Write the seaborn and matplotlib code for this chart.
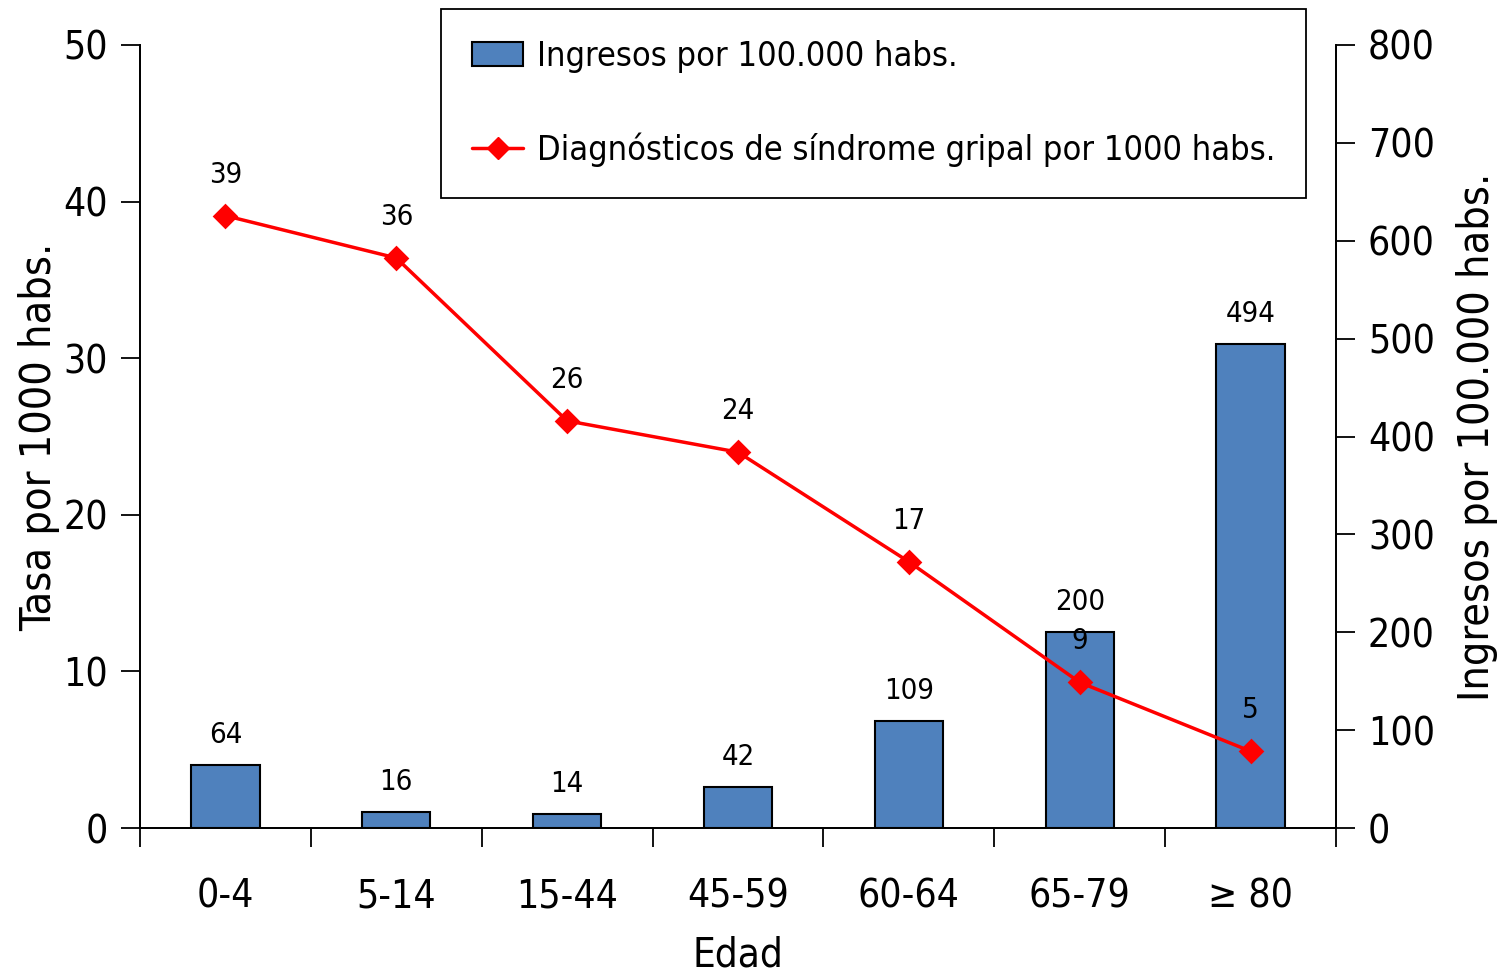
import numpy as np
import pandas as pd
import matplotlib
matplotlib.use('Agg')
import matplotlib.pyplot as plt
import seaborn as sns
from matplotlib.lines import Line2D
from matplotlib.patches import Patch

# datos
edades = ["0-4", "5-14", "15-44", "45-59", "60-64", "65-79", "\u2265 80"]
ingresos = [64, 16, 14, 42, 109, 200, 494]
diagnosticos = [39.1, 36.4, 26.0, 24.0, 17.0, 9.3, 4.9]

df = pd.DataFrame({"edad": edades, "ingresos": ingresos, "diag": diagnosticos})

sns.set_style("ticks")
plt.rcParams['font.family'] = ['DejaVu Sans']
plt.rcParams['font.stretch'] = 'condensed'
plt.rcParams['text.color'] = 'black'
plt.rcParams['axes.labelcolor'] = 'black'
plt.rcParams['xtick.color'] = 'black'
plt.rcParams['ytick.color'] = 'black'
plt.rcParams['axes.edgecolor'] = 'black'

fig = plt.figure(figsize=(15.01, 9.77), dpi=100)
ax = fig.add_axes([140 / 1501, 1 - 828 / 977, 1196 / 1501, 783 / 977])
ax2 = ax.twinx()

azul = "#4F81BD"
rojo = "#FF0000"

# barras (eje derecho)
sns.barplot(data=df, x="edad", y="ingresos", order=edades, color=azul,
            width=0.4, edgecolor="black", linewidth=1.5, saturation=1, ax=ax)
ax.set_ylim(0, 800)
ax.yaxis.tick_right()
ax.yaxis.set_label_position("right")
ax.set_yticks(range(0, 801, 100))
ax.set_ylabel("Ingresos por 100.000 habs.", fontsize=31, labelpad=15)
for i, v in enumerate(ingresos):
    ax.text(i, v + 800 * 30 / 783, f"{v}", ha="center", va="center", fontsize=21)

# linea (eje izquierdo)
sns.pointplot(data=df, x="edad", y="diag", order=edades, color=rojo,
              markers="D", markersize=11, linewidth=2.5, ax=ax2)
ax2.set_ylim(0, 50)
ax2.yaxis.tick_left()
ax2.yaxis.set_label_position("left")
ax2.set_yticks(range(0, 51, 10))
ax2.set_ylabel("Tasa por 1000 habs.", fontsize=31, labelpad=2)
for i, v in enumerate(diagnosticos):
    ax2.text(i, v + 50 * 41 / 783, f"{v:.0f}", ha="center", va="center", fontsize=21)

ax.set_xlim(-0.5, 6.5)
ax2.set_xlim(-0.5, 6.5)
ax.set_xlabel("Edad", fontsize=29, labelpad=14)
ax2.set_xlabel("")

for a in (ax, ax2):
    a.spines["top"].set_visible(False)
    for s in ("left", "right", "bottom"):
        a.spines[s].set_visible(True)
        a.spines[s].set_linewidth(1.3)
    a.tick_params(axis="y", labelsize=28, length=14, width=1.3, pad=9)

ax.set_xticks(range(7))
ax.set_xticklabels(edades)
ax.set_xticks(np.arange(-0.5, 7, 1), minor=True)
ax.tick_params(axis="x", which="major", length=0, labelsize=28, pad=36)
ax.tick_params(axis="x", which="minor", length=14, width=1.3)
ax2.tick_params(axis="x", which="both", length=0, labelbottom=False)

handles = [Patch(facecolor=azul, edgecolor="black", linewidth=1.5),
           Line2D([], [], color=rojo, marker="D", markersize=11, linewidth=2.5)]
leg = fig.legend(handles, ["Ingresos por 100.000 habs.",
                           "Diagnósticos de síndrome gripal por 1000 habs."],
                 loc="upper left", bbox_to_anchor=(441 / 1501, 1 - 9 / 977),
                 borderaxespad=0, fontsize=24.7, frameon=True, fancybox=False,
                 edgecolor="black", framealpha=1,
                 borderpad=0.9, labelspacing=1.75, handlelength=1.5,
                 handletextpad=0.4)
leg.get_frame().set_linewidth(1.3)

plt.savefig("out.png", dpi=100)
